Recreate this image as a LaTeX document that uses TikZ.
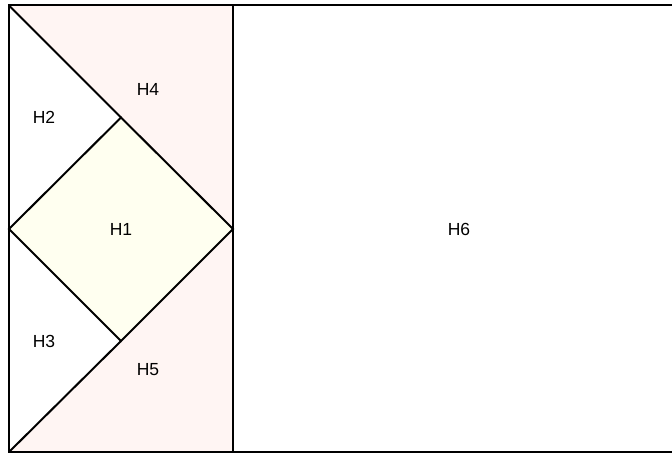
\documentclass[tikz,border=0pt]{standalone}
\usepackage{fontspec}
\setmainfont{Liberation Sans}
\definecolor{patchpink}{RGB}{255,245,243}
\definecolor{patchcream}{RGB}{255,255,240}
\begin{document}
\begin{tikzpicture}[x=1pt,y=-1pt,line width=2pt,
    patchlabel/.style={font=\fontsize{17.5}{20}\selectfont}]
    \useasboundingbox (0,0) rectangle (672,454);
    % corners of the block
    \coordinate (tl) at (9,5.5);
    \coordinate (bl) at (9,452);
    \coordinate (tm) at (233,5.5);
    \coordinate (bm) at (233,452);
    \coordinate (tr) at (690,5.5);
    \coordinate (br) at (690,452);
    % diamond
    \coordinate (dl) at (9,229);
    \coordinate (dt) at (121,117.5);
    \coordinate (dr) at (233,229);
    \coordinate (db) at (121,341);
    \fill[patchpink] (tl) -- (tm) -- (dr) -- (dt) -- cycle;
    \fill[patchpink] (bl) -- (db) -- (dr) -- (bm) -- cycle;
    \fill[patchcream] (dl) -- (dt) -- (dr) -- (db) -- cycle;
    \draw (tl) rectangle (br);
    \draw (tm) -- (bm);
    \draw (tl) -- (dt);
    \draw (bl) -- (db);
    \draw (dl) -- (dt) -- (dr) -- (db) -- cycle;
    \node[patchlabel] (h1) at (121,229) {H1};
    \node[patchlabel] (h2) at (44,117) {H2};
    \node[patchlabel] (h3) at (44,341) {H3};
    \node[patchlabel] (h4) at (148,89) {H4};
    \node[patchlabel] (h5) at (148,370) {H5};
    \node[patchlabel] (h6) at (459,229) {H6};
\end{tikzpicture}
\end{document}
